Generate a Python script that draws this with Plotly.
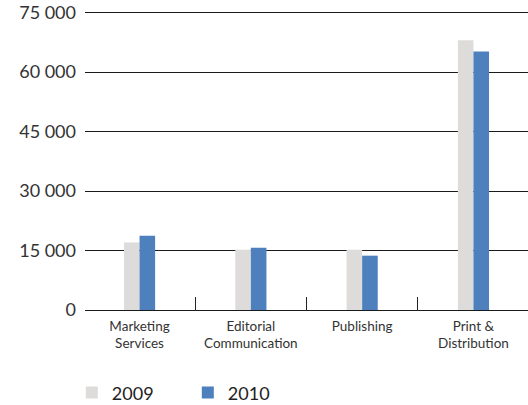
import plotly.graph_objects as go

categories = ["Marketing<br>Services", "Editorial<br>Communication", "Publishing", "Print &<br>Distribution"]
values_2009 = [17000, 15200, 15200, 68000]
values_2010 = [18700, 15700, 13700, 65200]
y_ticks = [0, 15000, 30000, 45000, 60000, 75000]
y_tick_labels = ["0", "15 000", "30 000", "45 000", "60 000", "75 000"]

fig = go.Figure()
fig.add_bar(x=categories, y=values_2009, name="2009", marker=dict(color="#dddcdb", line=dict(width=0)))
fig.add_bar(x=categories, y=values_2010, name="2010", marker=dict(color="#4d80bd", line=dict(width=0)))

fig.update_layout(
    width=528, height=405,
    margin=dict(l=85, r=0, t=11, b=95, autoexpand=False),
    paper_bgcolor="white", plot_bgcolor="white",
    font=dict(family="Lato", color="#333333"),
    barmode="group", bargap=0.72, bargroupgap=0,
    showlegend=True,
    legend=dict(orientation="h", x=0.136, xref="container", xanchor="left",
                y=0.03, yref="container", yanchor="middle",
                font=dict(size=18, color="#222222"), entrywidth=71, entrywidthmode="pixels",
                traceorder="normal"),
)
fig.update_xaxes(
    range=[-0.49, 3.49], tickson="boundaries", ticks="inside", ticklen=13, tickwidth=1,
    tickcolor="#222222", showgrid=False, showline=False, zeroline=False,
    tickfont=dict(size=13.5, color="#333333"), ticklabelstandoff=6,
)
fig.update_yaxes(
    range=[0, 75400], tickvals=y_ticks, ticktext=y_tick_labels,
    showgrid=True, gridcolor="#1a1a1a", gridwidth=1, zeroline=True, zerolinecolor="#1a1a1a",
    zerolinewidth=1, showline=False, ticks="", ticklabelstandoff=8,
    tickfont=dict(size=18, color="#333333"),
)
fig.write_html("out.html")
